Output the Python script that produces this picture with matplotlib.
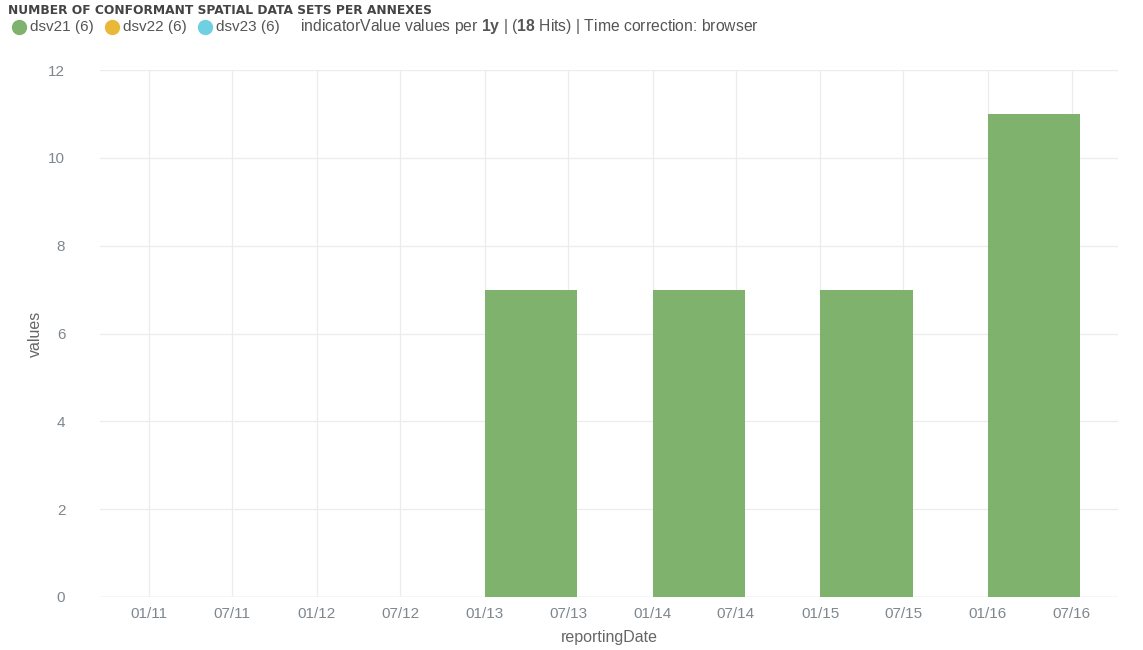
import numpy as np
import pandas as pd
import matplotlib
matplotlib.use("Agg")
import matplotlib.pyplot as plt
import matplotlib.dates as mdates
from matplotlib.lines import Line2D

plt.rcParams['font.family'] = ['Liberation Sans', 'DejaVu Sans']
plt.rcParams['mathtext.fontset'] = 'custom'
plt.rcParams['mathtext.rm'] = 'Liberation Sans'
plt.rcParams['mathtext.bf'] = 'Liberation Sans:bold'

title = "NUMBER OF CONFORMANT SPATIAL DATA SETS PER ANNEXES"
years = ["2011-01-01", "2012-01-01", "2013-01-01", "2014-01-01", "2015-01-01", "2016-01-01"]
series_names = ["dsv21", "dsv22", "dsv23"]
dsv21 = [0, 0, 7, 7, 7, 11]
dsv22 = [0, 0, 0, 0, 0, 0]
dsv23 = [0, 0, 0, 0, 0, 0]
interval = "1y"
colors = ["#7EB26D", "#EAB839", "#6ED0E0"]
grid_col = "#ececec"
text_col = "#7f878e"

W, H = 1143, 650
dates = pd.to_datetime(years)
fig = plt.figure(figsize=(W / 100, H / 100), dpi=100)
ax = fig.add_axes([100 / W, 1 - 597 / H, 1018 / W, 527 / H])

bar_w = 201  # days
bottom = np.zeros(len(dates))
for name, vals, c in zip(series_names, [dsv21, dsv22, dsv23], colors):
    vals = np.array(vals, dtype=float)
    ax.bar(dates, vals, width=bar_w, bottom=bottom, align="edge", color=c,
           linewidth=0, zorder=3)
    bottom += vals

ax.set_ylim(0, 12)
ax.set_yticks(range(0, 13, 2))
ax.set_xlim(pd.Timestamp("2010-09-16"), pd.Timestamp("2016-10-10"))
ax.xaxis.set_major_locator(mdates.MonthLocator(bymonth=[1, 7]))
ax.xaxis.set_major_formatter(mdates.DateFormatter("%m/%y"))
ax.grid(True, color=grid_col, linewidth=0.9, zorder=0)
for s in ax.spines.values():
    s.set_visible(False)
ax.axhline(0, color="#dddddd", linewidth=1, zorder=1)
ax.tick_params(axis="both", length=0, colors=text_col, labelsize=11)
ax.tick_params(axis="y", pad=25)
ax.tick_params(axis="x", pad=7)
ax.set_ylabel("values", color="#666666", fontsize=11.5, labelpad=4)
ax.set_xlabel("reportingDate", color="#666666", fontsize=11.5, labelpad=7)

fig.text(8 / W, 1 - 11 / H, title, fontsize=8.8, fontweight="bold",
         family="DejaVu Sans", color="#444444", va="center")

# legend row
y_leg = 1 - 27 / H
for i, (name, c, vals) in enumerate(zip(series_names, colors, [dsv21, dsv22, dsv23])):
    x = (19 + 93 * i) / W
    fig.add_artist(Line2D([x], [y_leg], marker="o", markersize=10, color=c,
                          transform=fig.transFigure, linestyle="none"))
    fig.text(x + 11 / W, y_leg, f"{name} ({len(vals)})", fontsize=11,
             color="#555555", va="center")

hits = sum(len(v) for v in [dsv21, dsv22, dsv23])
info = (r"indicatorValue values per $\mathbf{" + interval + r"}$ | ($\mathbf{"
        + str(hits) + r"}$ Hits) | Time correction: browser")
fig.text(300 / W, y_leg, info, fontsize=11.3, color="#555555", va="center")

fig.savefig("out.png", dpi=100, facecolor="white")
